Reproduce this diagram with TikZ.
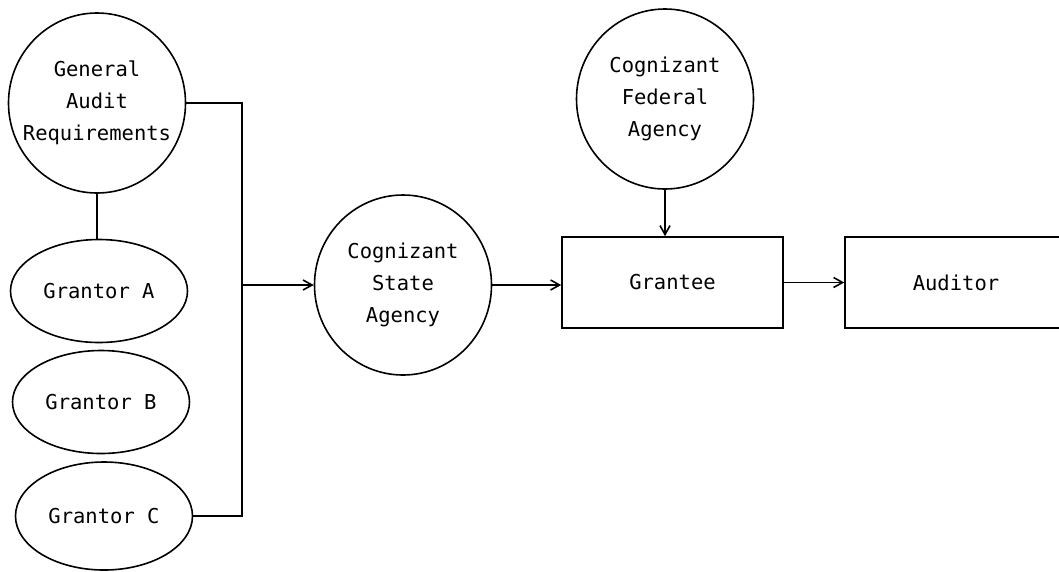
\documentclass[tikz,border=0pt]{standalone}
\usepackage{fontspec}
\newfontfamily\typed{DejaVu Sans Mono}
\usetikzlibrary{shapes.geometric,arrows.meta}

\begin{document}
\begin{tikzpicture}[
  x=1pt, y=-1pt,
  line width=1.6pt,
  bubble/.style={draw,ellipse,inner sep=0pt,inner xsep=-14pt,minimum width=177pt,minimum height=180pt},
  grantor/.style={draw,ellipse,inner sep=0pt,minimum width=177pt,minimum height=103pt},
  office/.style={draw,rectangle,minimum height=91pt},
  flow/.style={-{Straight Barb[length=9pt,width=10pt]}},
  every node/.style={font=\typed\fontsize{20.5}{32}\selectfont,align=center}
  ]
\useasboundingbox (0,0) rectangle (1059,571);

\node[bubble] (general) at (97,103) {General\\Audit\\Requirements};
\node[grantor] (grantorA) at (99,291) {Grantor A};
\node[grantor] (grantorB) at (101,402) {Grantor B};
\node[grantor,minimum height=108pt] (grantorC) at (104,516) {Grantor C};

\node[bubble] (state) at (403,285) {Cognizant\\State\\Agency};
\node[bubble] (federal) at (665,99) {Cognizant\\Federal\\Agency};
\node[office,minimum width=221pt] (grantee) at (672.5,282.5) {Grantee};
\node[office,minimum width=222pt] (auditor) at (956,282.5) {Auditor};

\coordinate (junction) at (242,285);

\draw (general.south) -- (general.south |- grantorA.north);
\draw (general.east) -| (junction) |- (grantorC.east);
\draw[flow] (junction) -- (state.west);
\draw[flow] (state.east) -- (state.east -| grantee.west);
\draw[flow] (federal.south) -- (federal.south |- grantee.north);
\draw[flow] (grantee.east) -- (grantee.east -| auditor.west);

\end{tikzpicture}
\end{document}
